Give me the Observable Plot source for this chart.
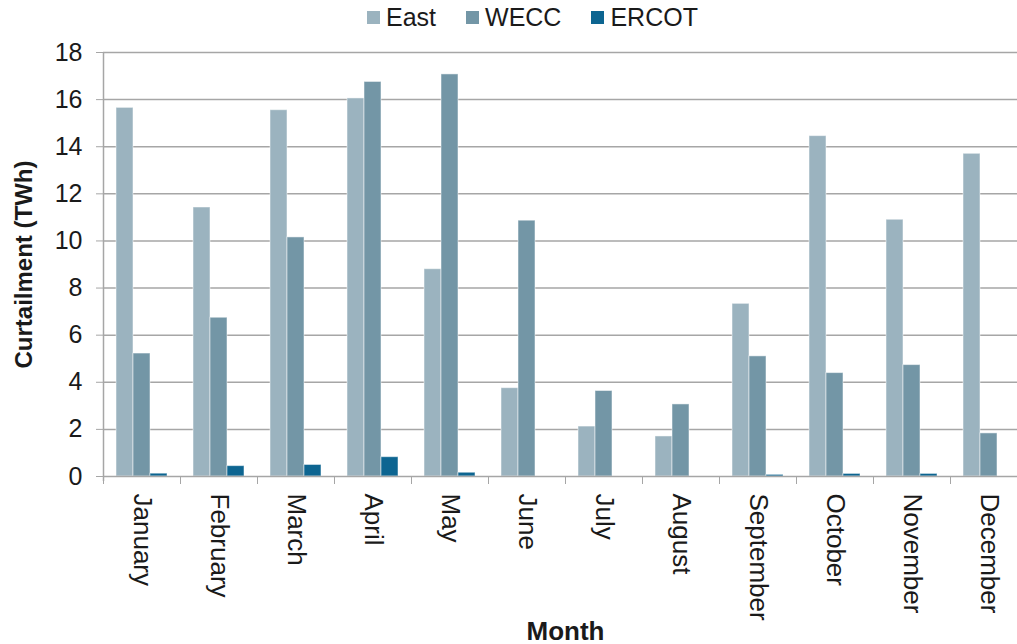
<!DOCTYPE html>
<html><head><meta charset="utf-8">
<script src="https://cdn.jsdelivr.net/npm/d3@7"></script>
<script src="https://cdn.jsdelivr.net/npm/@observablehq/plot@0.6"></script>
<style>
html,body{margin:0;padding:0;background:#fff;overflow:hidden;width:1017px;height:644px}
#legend{height:34px;display:flex;align-items:center;gap:30px;padding-left:367px;font-family:"Liberation Sans",Arial,sans-serif;font-size:25px;color:#1a1a1a}
.item{display:flex;align-items:center}
.sw{width:13px;height:13px;margin-right:6px;display:inline-block}
#chart svg{display:block;max-width:none !important;height:610px !important}
g[aria-label="y-axis label"] text, g[aria-label="fx-axis label"] text{font-weight:bold}
</style>
</head><body>
<div id="legend"></div>
<div id="chart"></div>
<script>
const months = ["January","February","March","April","May","June","July","August","September","October","November","December"];
const series = ["East","WECC","ERCOT"];
const east  = [15.65, 11.42, 15.55, 16.05, 8.8, 3.75, 2.12, 1.7, 7.33, 14.45, 10.9, 13.7];
const wecc  = [5.22, 6.74, 10.15, 16.75, 17.07, 10.86, 3.63, 3.06, 5.1, 4.39, 4.73, 1.83];
const ercot = [0.12, 0.44, 0.49, 0.82, 0.16, 0, 0, 0, 0.07, 0.11, 0.11, 0];
const yTicks = [0, 2, 4, 6, 8, 10, 12, 14, 16, 18];
const colors = ["#9bb3bf", "#7396a6", "#0d6591"];

const valuesBySeries = {East: east, WECC: wecc, ERCOT: ercot};
const data = months.flatMap((m, i) => series.map(s => ({month: m, series: s, value: valuesBySeries[s][i]})));

const legend = document.getElementById("legend");
series.forEach((s, i) => {
  const it = document.createElement("span");
  it.className = "item";
  it.innerHTML = `<span class="sw" style="background:${colors[i]}"></span><span>${s}</span>`;
  legend.appendChild(it);
});

const W = 1030, H = 610, ML = 103, MR = 3, MT = 18, MB = 168;
const bw = (W - ML - MR) / months.length;
const grid = "#a6a6a6";

const chart = Plot.plot({
  width: W, height: H, marginLeft: ML, marginRight: MR, marginTop: MT, marginBottom: MB,
  style: {fontFamily: "'Liberation Sans', Arial, sans-serif", fontSize: "25px", color: "#1a1a1a", background: "#fff", overflow: "visible"},
  fx: {domain: months, padding: 0, label: null, axis: null},
  x: {domain: series, paddingInner: 0, paddingOuter: 0.72, axis: null},
  y: {domain: [0, 18], label: null, axis: null},
  color: {domain: series, range: colors},
  marks: [
    Plot.gridY({ticks: yTicks.slice(1), stroke: grid, strokeOpacity: 1, strokeWidth: 1.5}),
    Plot.barY(data, {fx: "month", x: "series", y: "value", fill: "series", stroke: "#fff", strokeOpacity: 0.5, strokeWidth: 1}),
    Plot.ruleY([0], {stroke: grid, strokeWidth: 1.5}),
    Plot.gridFx({ticks: [months[0]], dx: -bw / 2, stroke: grid, strokeOpacity: 1, strokeWidth: 1.5, insetBottom: -5}),
    Plot.axisY({anchor: "left", ticks: yTicks, tickSize: 7, tickPadding: 14, stroke: grid, fill: "#1a1a1a", fontSize: 25, label: null}),
    Plot.axisY({anchor: "left", ticks: [], label: "Curtailment (TWh)", labelArrow: "none", labelAnchor: "center", labelOffset: 89, dy: -11, fontSize: 24, fill: "#1a1a1a"}),
    Plot.axisFx({anchor: "bottom", tickSize: 8, tickFormat: () => "", dx: -bw / 2, stroke: grid, label: null}),
    Plot.axisFx({anchor: "bottom", tickSize: 0, tickPadding: 17, tickRotate: 90, textAnchor: "start", lineAnchor: "middle", fontSize: 26, fill: "#1a1a1a", label: null}),
    Plot.axisFx({anchor: "bottom", ticks: [], label: "Month", labelArrow: "none", labelAnchor: "center", labelOffset: 163, dx: 12, fontSize: 26, fill: "#1a1a1a"})
  ]
});
document.getElementById("chart").appendChild(chart);
</script>
</body></html>
